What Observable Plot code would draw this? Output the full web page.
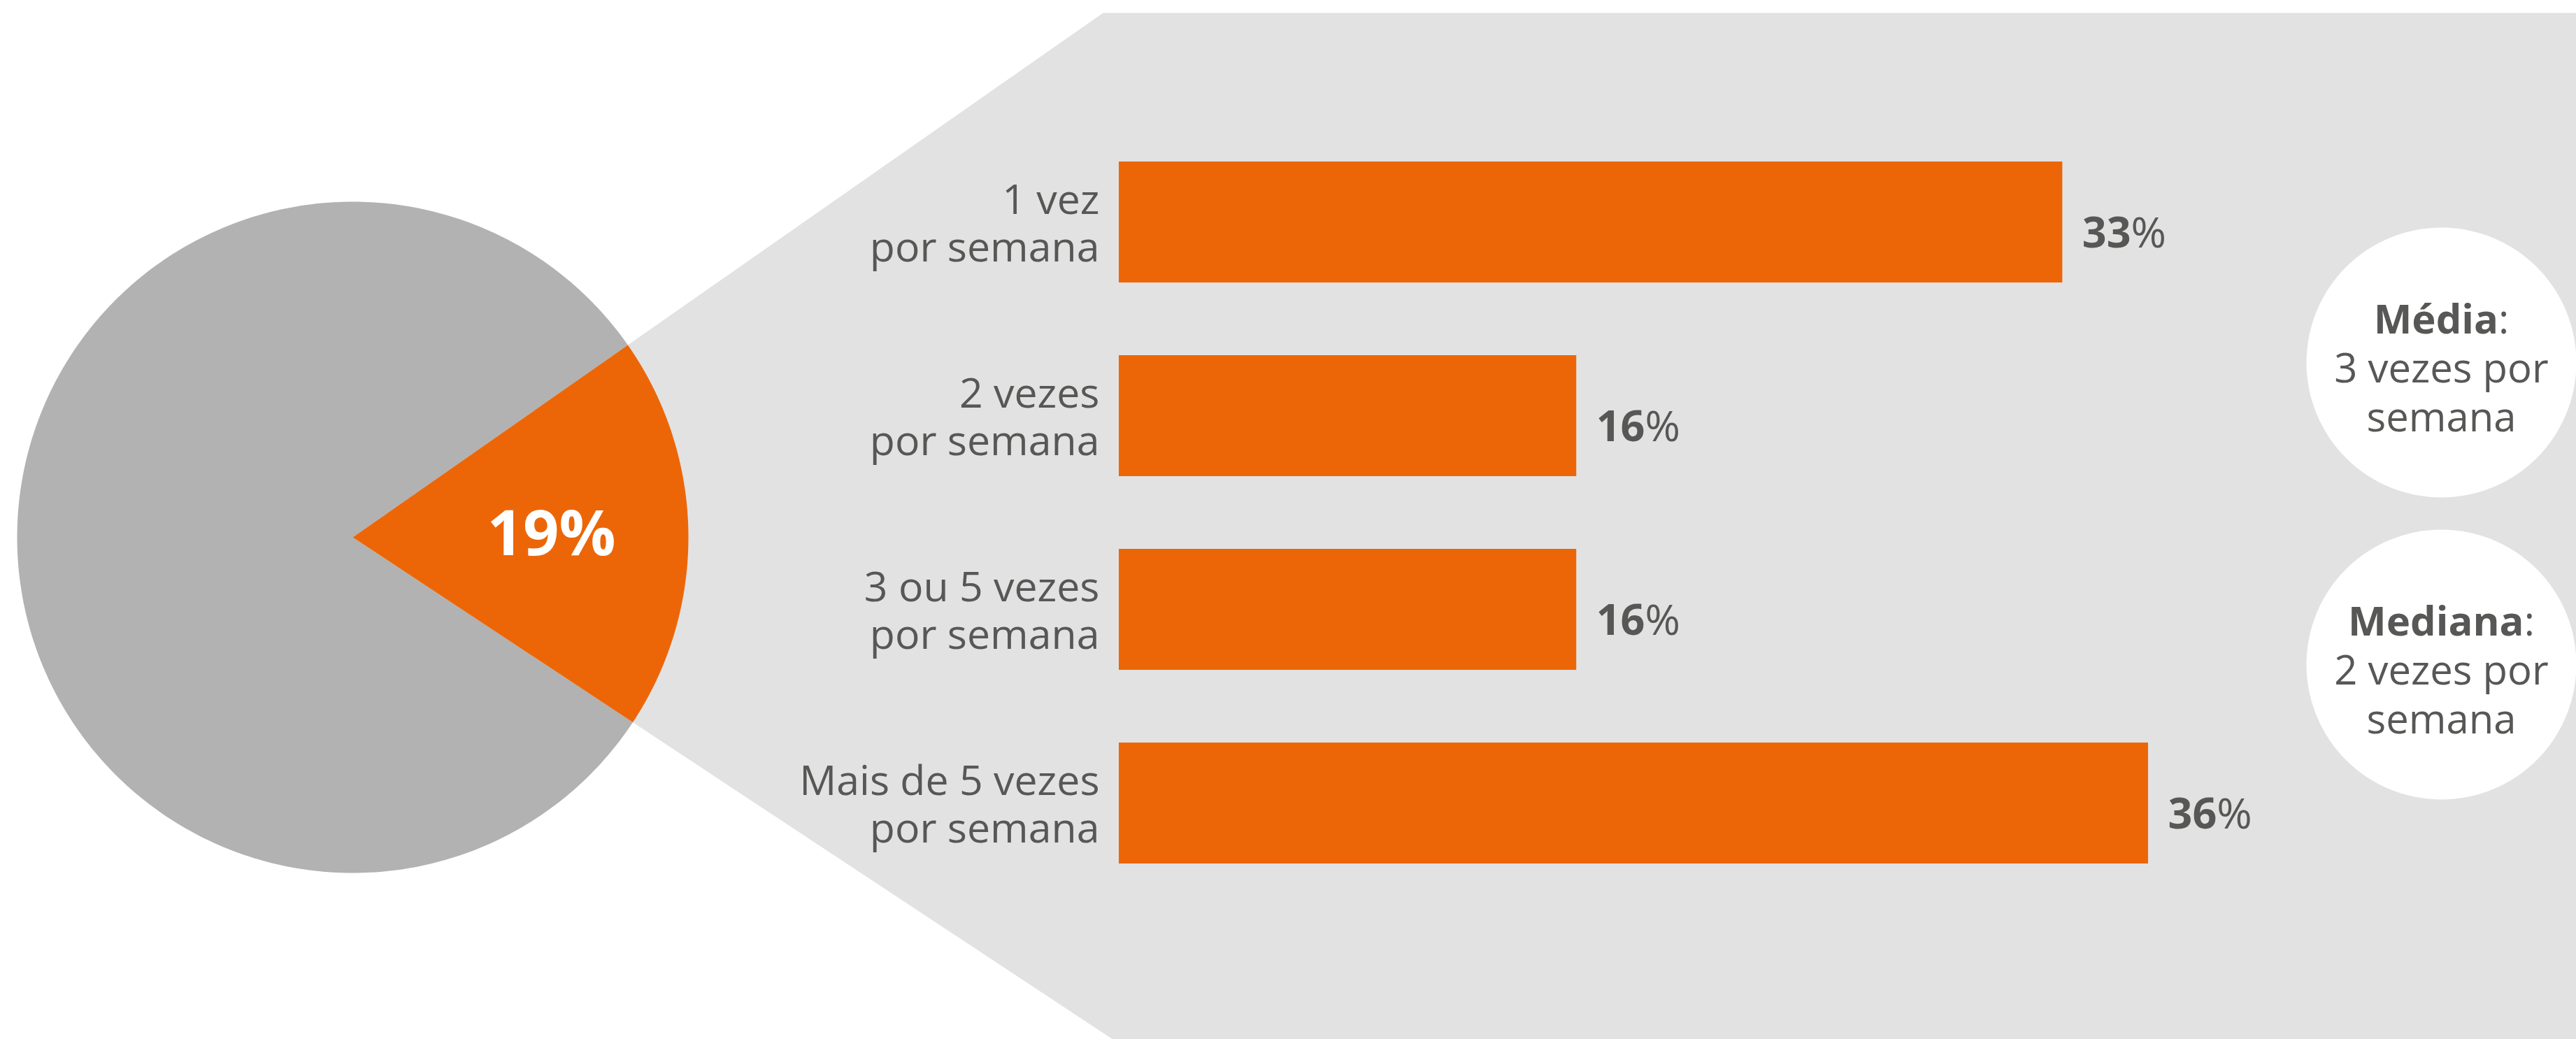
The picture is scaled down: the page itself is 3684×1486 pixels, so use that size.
<!DOCTYPE html>
<html>
<head>
<meta charset="utf-8">
<script src="https://cdn.jsdelivr.net/npm/d3@7"></script>
<script src="https://cdn.jsdelivr.net/npm/@observablehq/plot@0.6"></script>
<style>
  html, body { margin: 0; padding: 0; background: #ffffff; overflow: hidden; }
  #chart { position: relative; width: 3684px; height: 1486px; font-family: "Open Sans", sans-serif; }
  #chart svg { position: absolute; top: 0; overflow: visible; }
</style>
</head>
<body>
<div id="chart"></div>
<script>
// ---------- data ----------
const categories = ["1 vez\npor semana", "2 vezes\npor semana", "3 ou 5 vezes\npor semana", "Mais de 5 vezes\npor semana"];
const values = [33, 16, 16, 36];
const pieNames = ["destaque", "restante"];
const pieShares = [19, 81];
const pieLabels = ["19%"];
const statTitles = ["Média", "Mediana"];
const statTexts = ["3 vezes por\nsemana", "2 vezes por\nsemana"];

// ---------- styles / layout ----------
const W = 3684, H = 1486;
const ORANGE = "#ec6608", PIE_GRAY = "#b2b2b2", PANEL = "#e2e2e2", INK = "#575756";
const FONT = '"Open Sans", sans-serif';
const cx = 504, cy = 768, R = 480, sliceCenterDeg = 0.75, panelTop = 18;

// ---------- pie geometry (derived from the shares) ----------
const total = d3.sum(pieShares);
const span = pieShares[0] / total * 2 * Math.PI;
const c0 = sliceCenterDeg * Math.PI / 180;
const a0 = c0 - span / 2, a1 = c0 + span / 2;
function arcPoints(name, from, to) {
  const n = 360, pts = [{name, x: 0, y: 0}];
  for (let i = 0; i <= n; i++) {
    const t = from + (to - from) * i / n;
    pts.push({name, x: Math.cos(t), y: Math.sin(t)});
  }
  pts.push({name, x: 0, y: 0});
  return pts;
}
const highlight = arcPoints(pieNames[0], a0, a1);
const rest = arcPoints(pieNames[1], a1, a0 + 2 * Math.PI);
const xMin = -cx / R, xMax = (W - cx) / R, yMin = -(H - cy) / R, yMax = cy / R, yTop = (cy - panelTop) / R;
const panel = [
  {x: 0, y: 0},
  {x: yTop / Math.tan(a1), y: yTop},
  {x: xMax, y: yTop},
  {x: xMax, y: yMin},
  {x: yMin / Math.tan(a0), y: yMin},
  {x: 0, y: 0}
];
const pieLabelData = [{label: pieLabels[0], share: pieShares[0]}];

const pie = Plot.plot({
  width: W, height: H, margin: 0,
  x: {domain: [xMin, xMax], axis: null},
  y: {domain: [yMin, yMax], axis: null},
  style: {background: "transparent", fontFamily: FONT},
  marks: [
    Plot.line(panel, {x: "x", y: "y", fill: PANEL, stroke: "none"}),
    Plot.line(rest, {x: "x", y: "y", fill: PIE_GRAY, stroke: "none"}),
    Plot.line(highlight, {x: "x", y: "y", fill: ORANGE, stroke: "none"}),
    Plot.text(pieLabelData, {
      x: () => 0.592 * Math.cos(c0), y: () => 0.592 * Math.sin(c0),
      text: "label", fill: "white", fontWeight: 700, fontSize: 90, fontFamily: FONT
    })
  ]
});

// ---------- bars ----------
const rows = categories.map((c, i) => ({cat: c, value: values[i]}));
const bars = Plot.plot({
  width: W, height: H,
  marginLeft: 1600, marginRight: 612, marginTop: 230, marginBottom: 251,
  x: {domain: [0, d3.max(values)], axis: null},
  y: {domain: categories, axis: null, paddingInner: 0.376, paddingOuter: 0},
  style: {background: "transparent", fontFamily: FONT},
  marks: [
    Plot.barX(rows, {x: "value", y: "cat", fill: ORANGE}),
    Plot.text(rows, {x: 0, y: "cat", text: "cat", textAnchor: "end", dx: -28,
      fontSize: 59, lineHeight: 1.15, fill: INK, fontFamily: FONT}),
    Plot.text(rows, {x: "value", y: "cat", text: d => d.value + "%", textAnchor: "start",
      dx: 28, dy: 16, fontSize: 61, fill: INK, fontFamily: FONT})
  ]
});

// ---------- stat circles ----------
const stats = statTitles.map((t, i) => ({title: t, text: t + ":\n" + statTexts[i]}));
const statPlot = Plot.plot({
  width: 386, height: H, marginLeft: 0, marginRight: 0, marginTop: 518, marginBottom: 536,
  y: {type: "point", domain: statTitles, axis: null, padding: 0},
  style: {background: "transparent", fontFamily: FONT},
  marks: [
    Plot.dot(stats, {y: "title", r: 193, fill: "white", stroke: "none"}),
    Plot.text(stats, {y: "title", text: "text", fontSize: 58, lineHeight: 1.207, dy: 6,
      fill: INK, fontFamily: FONT})
  ]
});

const chart = document.getElementById("chart");
pie.style.left = "0px";
bars.style.left = "0px";
statPlot.style.left = "3298px";
chart.append(pie, bars, statPlot);

// bold digits, regular percent sign
d3.select(bars).selectAll("text").each(function () {
  if (this.querySelector("tspan")) return;
  const m = this.textContent.match(/^(\d+)(%)$/);
  if (m) {
    this.textContent = "";
    d3.select(this).append("tspan").attr("font-weight", 700).style("font-weight", 700).text(m[1]);
    d3.select(this).append("tspan").attr("font-weight", 400).style("font-weight", 400).text(m[2]);
  }
});
// bold title word, regular colon
d3.select(statPlot).selectAll("text").each(function () {
  const first = this.querySelector("tspan");
  if (!first) return;
  const m = first.textContent.match(/^(.*)(:)$/);
  if (m) {
    first.textContent = "";
    d3.select(first).append("tspan").attr("font-weight", 700).style("font-weight", 700).text(m[1]);
    d3.select(first).append("tspan").attr("font-weight", 400).style("font-weight", 400).text(m[2]);
  }
});
</script>
</body>
</html>
